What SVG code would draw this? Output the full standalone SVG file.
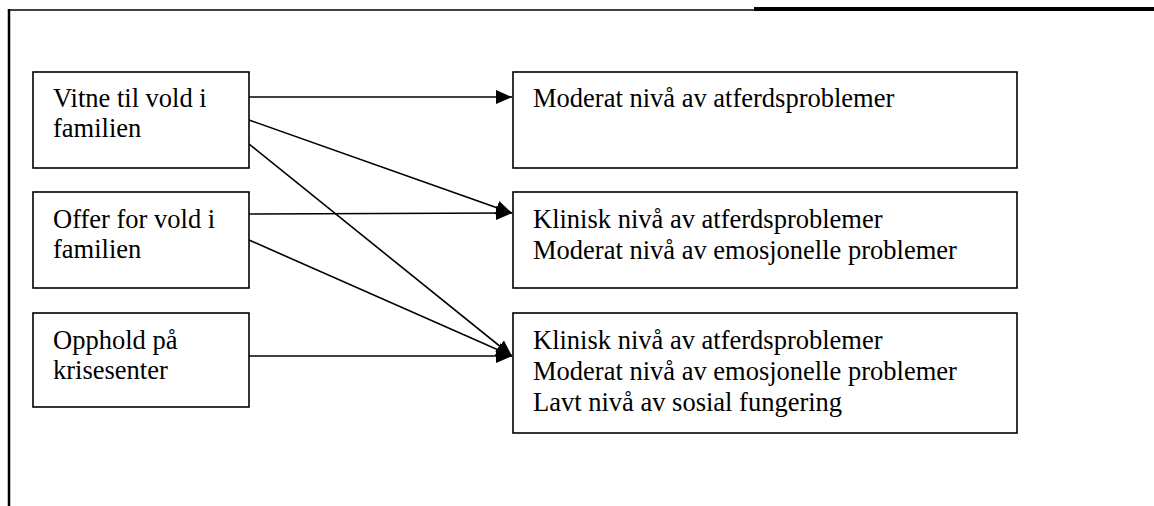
<svg xmlns="http://www.w3.org/2000/svg" width="1154" height="506" viewBox="0 0 1154 506">
<style>
.box{fill:#fff;stroke:#000;stroke-width:1.6}
.t{font-family:"Liberation Serif","Times New Roman",serif;font-size:26.5px;fill:#000}
.c{stroke:#000;stroke-width:1.6;fill:none;marker-end:url(#ah)}
</style>
<defs>
<marker id="ah" markerUnits="userSpaceOnUse" markerWidth="16" markerHeight="16" viewBox="0 0 16 14" refX="16" refY="7" orient="auto">
<path d="M0,0 L16,7 L0,14 Z" fill="#000"/>
</marker>
</defs>
<rect width="1154" height="506" fill="#fff"/>
<g id="frame">
<line x1="9" y1="10" x2="755" y2="10" stroke="#000" stroke-width="1.5"/>
<line x1="754" y1="9" x2="1154" y2="9" stroke="#000" stroke-width="4"/>
<line x1="9" y1="9" x2="9" y2="506" stroke="#000" stroke-width="2.5"/>
</g>
<g id="connectors">
<line class="c" x1="249" y1="97" x2="512" y2="97"/>
<line class="c" x1="249" y1="120" x2="512" y2="213"/>
<line class="c" x1="249" y1="144" x2="512" y2="356"/>
<line class="c" x1="249" y1="214" x2="512" y2="213"/>
<line class="c" x1="249" y1="240" x2="512" y2="356"/>
<line class="c" x1="249" y1="356" x2="512" y2="356"/>
</g>
<g id="n1">
<rect class="box" x="33" y="72" width="216" height="96"/>
<text class="t" x="53" y="107">Vitne til vold i</text>
<text class="t" x="53" y="137">familien</text>
</g>
<g id="n2">
<rect class="box" x="33" y="192" width="216" height="96"/>
<text class="t" x="53" y="228">Offer for vold i</text>
<text class="t" x="53" y="258">familien</text>
</g>
<g id="n3">
<rect class="box" x="33" y="313" width="216" height="94"/>
<text class="t" x="53" y="349">Opphold på</text>
<text class="t" x="53" y="379">krisesenter</text>
</g>
<g id="r1">
<rect class="box" x="513" y="72" width="504" height="96"/>
<text class="t" x="533" y="107">Moderat nivå av atferdsproblemer</text>
</g>
<g id="r2">
<rect class="box" x="513" y="192" width="504" height="96"/>
<text class="t" x="533" y="228">Klinisk nivå av atferdsproblemer</text>
<text class="t" x="533" y="259">Moderat nivå av emosjonelle problemer</text>
</g>
<g id="r3">
<rect class="box" x="513" y="313" width="504" height="120"/>
<text class="t" x="533" y="349">Klinisk nivå av atferdsproblemer</text>
<text class="t" x="533" y="380">Moderat nivå av emosjonelle problemer</text>
<text class="t" x="533" y="411">Lavt nivå av sosial fungering</text>
</g>
</svg>
